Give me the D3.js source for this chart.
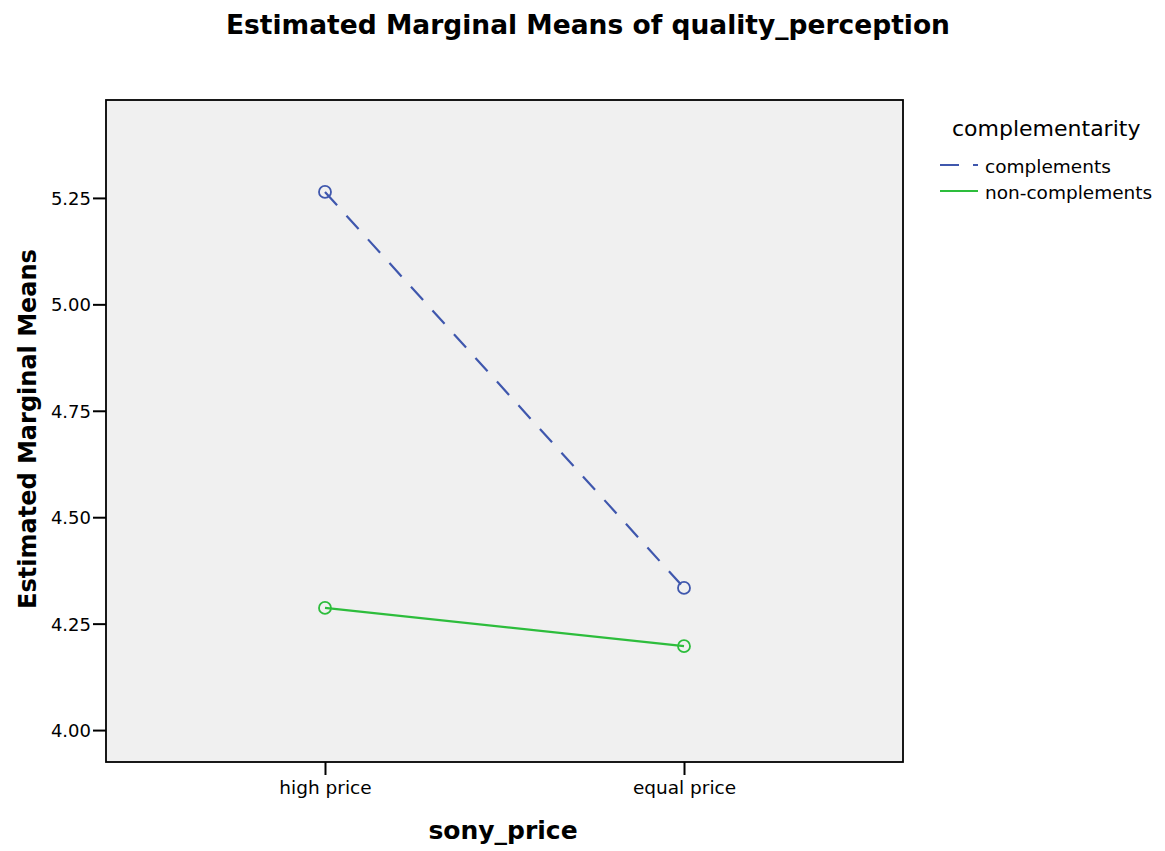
<!DOCTYPE html>
<html>
<head>
<meta charset="utf-8">
<script src="https://cdn.jsdelivr.net/npm/d3@7"></script>
<style>
  body { margin: 0; background: #fff; }
  svg text { font-family: "DejaVu Sans", sans-serif; fill: #000; }
</style>
</head>
<body>
<div id="chart"></div>
<script>
// data
const categories = ["high price", "equal price"];
const seriesNames = ["complements", "non-complements"];
const complementsMeans = [5.264, 4.334];
const nonComplementsMeans = [4.287, 4.197];
const yTicks = [4.00, 4.25, 4.50, 4.75, 5.00, 5.25];

const series = [
  { name: seriesNames[0], values: complementsMeans, color: "#3f57ad", dash: "18,14" },
  { name: seriesNames[1], values: nonComplementsMeans, color: "#2dbd3c", dash: null }
];

const W = 1165, H = 851;
const plot = { left: 106, right: 903, top: 100, bottom: 762 };

const svg = d3.select("#chart").append("svg")
  .attr("width", W).attr("height", H);

const x = d3.scalePoint()
  .domain(categories)
  .range([plot.left, plot.right])
  .padding(0.61);

const y = d3.scaleLinear()
  .domain([3.925, 5.48])
  .range([plot.bottom, plot.top]);

// fond gris du graphique
svg.append("rect")
  .attr("x", plot.left).attr("y", plot.top)
  .attr("width", plot.right - plot.left).attr("height", plot.bottom - plot.top)
  .attr("fill", "#f0f0f0");

// axes
const yAxis = svg.append("g")
  .attr("transform", `translate(${plot.left},0)`)
  .call(d3.axisLeft(y).tickValues(yTicks).tickFormat(d3.format(".2f")).tickSize(13).tickSizeOuter(0).tickPadding(2));
yAxis.select(".domain").remove();
yAxis.selectAll(".tick line").attr("stroke", "#000").attr("stroke-width", 2);
yAxis.selectAll("text").style("font-size", "18px").attr("dy", "0.36em");

const xAxis = svg.append("g")
  .attr("transform", `translate(0,${plot.bottom})`)
  .call(d3.axisBottom(x).tickSize(13).tickSizeOuter(0).tickPadding(6));
xAxis.select(".domain").remove();
xAxis.selectAll(".tick line").attr("stroke", "#000").attr("stroke-width", 2);
xAxis.selectAll("text").style("font-size", "18.5px");

// cadre
svg.append("rect")
  .attr("x", plot.left).attr("y", plot.top)
  .attr("width", plot.right - plot.left).attr("height", plot.bottom - plot.top)
  .attr("fill", "none").attr("stroke", "#000").attr("stroke-width", 1.8);

// lignes + marqueurs
const line = d3.line()
  .x((d, i) => x(categories[i]))
  .y(d => y(d));

series.forEach(s => {
  svg.append("path")
    .datum(s.values)
    .attr("d", line)
    .attr("fill", "none")
    .attr("stroke", s.color)
    .attr("stroke-width", 2.2)
    .attr("stroke-dasharray", s.dash);

  svg.selectAll(null)
    .data(s.values)
    .join("circle")
    .attr("cx", (d, i) => x(categories[i]))
    .attr("cy", d => y(d))
    .attr("r", 6)
    .attr("fill", "none")
    .attr("stroke", s.color)
    .attr("stroke-width", 1.8);
});

// titres
svg.append("text")
  .attr("x", 588).attr("y", 34)
  .attr("text-anchor", "middle")
  .style("font-size", "26.5px").style("font-weight", "bold")
  .text("Estimated Marginal Means of quality_perception");

svg.append("text")
  .attr("transform", `translate(36,429) rotate(-90)`)
  .attr("text-anchor", "middle")
  .style("font-size", "24px").style("font-weight", "bold")
  .text("Estimated Marginal Means");

svg.append("text")
  .attr("x", 503).attr("y", 839)
  .attr("text-anchor", "middle")
  .style("font-size", "25px").style("font-weight", "bold")
  .text("sony_price");

// légende
const legend = svg.append("g");
legend.append("text")
  .attr("x", 952).attr("y", 136)
  .style("font-size", "22px")
  .text("complementarity");

series.forEach((s, i) => {
  const ly = 165 + i * 26;
  legend.append("line")
    .attr("x1", 940).attr("x2", 978)
    .attr("y1", ly).attr("y2", ly)
    .attr("stroke", s.color).attr("stroke-width", 2)
    .attr("stroke-dasharray", s.dash ? "19,14" : null);
  legend.append("text")
    .attr("x", 985).attr("y", ly + 8)
    .style("font-size", "18.5px")
    .text(s.name);
});
</script>
</body>
</html>
